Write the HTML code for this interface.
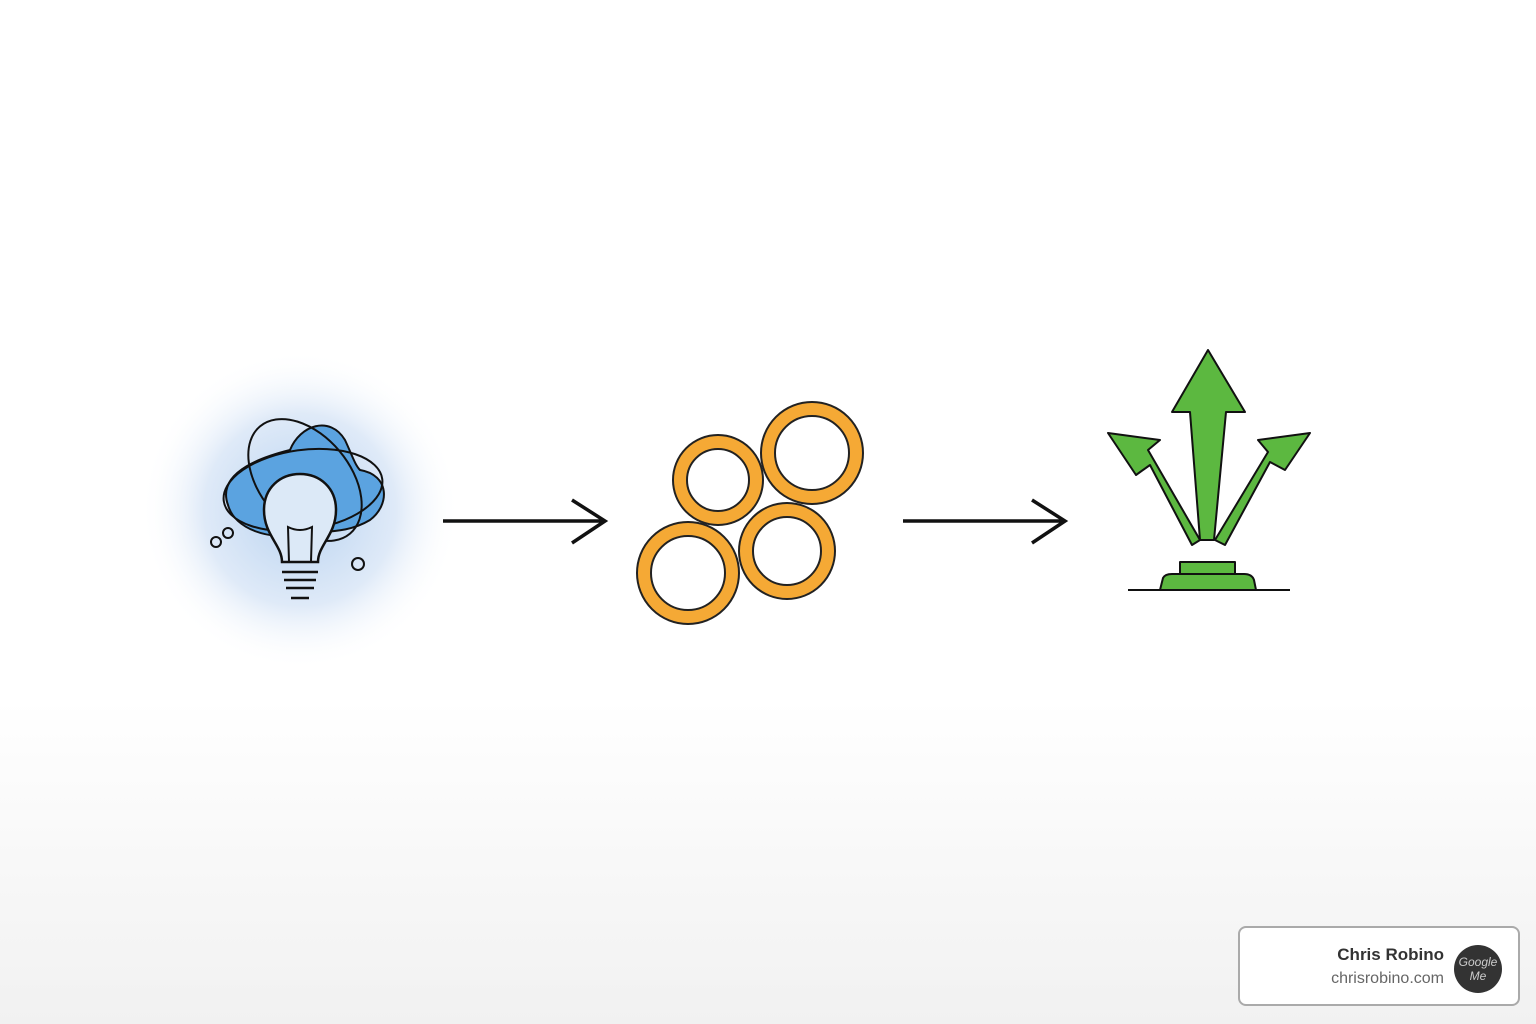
<!DOCTYPE html>
<html><head><style>
html,body{margin:0;padding:0}
body{width:1536px;height:1024px;overflow:hidden;background:linear-gradient(#fff 0,#fff 700px,#f1f1f1 1024px);font-family:"Liberation Sans",sans-serif;position:relative}
svg{position:absolute;left:0;top:0}
.card{position:absolute;left:1238px;top:926px;width:282px;height:80px;box-sizing:border-box;border:2px solid #aaa;border-radius:8px;background:#fff}
.n{position:absolute;right:74px;top:17px;font-weight:bold;font-size:17px;color:#333}
.u{position:absolute;right:74px;top:42px;font-size:16px;color:#666}
.av{position:absolute;right:16px;top:17px;width:48px;height:48px;border-radius:50%;background:#333;color:#ccc;font-size:12px;text-align:center;line-height:14px;padding-top:10px;box-sizing:border-box;font-style:italic}
</style></head><body>
<svg width="1536" height="1024" viewBox="0 0 1536 1024">
<defs>
<radialGradient id="g" cx="300" cy="510" r="160" gradientUnits="userSpaceOnUse">
<stop offset="0" stop-color="#b9d3f0"/><stop offset="0.6" stop-color="#dfeaf8"/><stop offset="1" stop-color="#fff" stop-opacity="0"/></radialGradient>
</defs>
<circle cx="300" cy="510" r="160" fill="url(#g)"/>
<path d="M228 505 C215 470 270 455 290 450 C300 425 330 415 345 440 C352 455 355 465 360 470 C390 475 390 505 370 520 C345 535 320 530 300 535 C270 540 235 530 228 505Z" fill="#5ba3e0" stroke="#111" stroke-width="2"/>
<ellipse cx="303" cy="490" rx="80" ry="40" fill="none" stroke="#111" stroke-width="2" transform="rotate(-8 303 490)"/>
<ellipse cx="305" cy="480" rx="45" ry="70" fill="none" stroke="#111" stroke-width="2" transform="rotate(-40 305 480)"/>
<path d="M282 562 C282 545 264 535 264 510 C264 488 280 474 300 474 C320 474 336 488 336 510 C336 535 318 545 318 562 Z" fill="#dce9f7" stroke="#111" stroke-width="2.5"/>
<path d="M289 562 L288 527 Q300 533 312 527 L311 562" fill="none" stroke="#111" stroke-width="2"/>
<path d="M282 572 H318 M284 580 H316 M286 588 H314 M291 598 H309" stroke="#111" stroke-width="2.5"/>
<circle cx="216" cy="542" r="5" fill="none" stroke="#111" stroke-width="2"/>
<circle cx="228" cy="533" r="5" fill="none" stroke="#111" stroke-width="2"/>
<circle cx="358" cy="564" r="6" fill="none" stroke="#111" stroke-width="2"/>
<g stroke="#111" stroke-width="3.5" fill="none">
<path d="M443 521 H605 M572 500 L605 521 L572 543"/>
<path d="M903 521 H1065 M1032 500 L1065 521 L1032 543"/>
</g>
<g fill="none" stroke-width="14" stroke="#f5a935">
<circle cx="718" cy="480" r="38"/><circle cx="812" cy="453" r="44"/><circle cx="787" cy="551" r="41"/><circle cx="688" cy="573" r="44"/>
</g>
<g fill="none" stroke-width="2" stroke="#222">
<circle cx="718" cy="480" r="45"/><circle cx="718" cy="480" r="31"/>
<circle cx="812" cy="453" r="51"/><circle cx="812" cy="453" r="37"/>
<circle cx="787" cy="551" r="48"/><circle cx="787" cy="551" r="34"/>
<circle cx="688" cy="573" r="51"/><circle cx="688" cy="573" r="37"/>
</g>
<g fill="#5cb840" stroke="#111" stroke-width="2" stroke-linejoin="round">
<path d="M1200 540 L1190 412 L1172 412 L1208 350 L1245 412 L1226 412 L1214 540Z"/>
<path d="M1192 545 L1150 465 L1136 475 L1108 433 L1160 440 L1148 450 L1200 540Z"/>
<path d="M1225 545 L1270 462 L1285 470 L1310 433 L1258 440 L1268 452 L1215 540Z"/>
<path d="M1180 575 L1180 562 L1235 562 L1235 575Z"/>
<path d="M1160 590 L1163 578 Q1165 574 1172 574 L1244 574 Q1252 574 1254 580 L1256 590Z"/>
</g>
<path d="M1128 590 H1290" stroke="#111" stroke-width="2"/>
</svg>
<div class="card"><div class="n">Chris Robino</div><div class="u">chrisrobino.com</div><div class="av">Google<br>Me</div></div>
</body></html>
